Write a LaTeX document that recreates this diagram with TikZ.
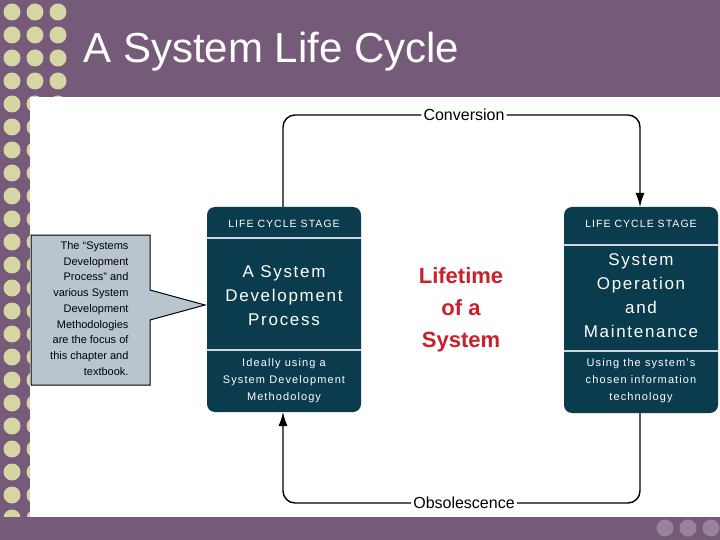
\documentclass[tikz,border=0pt]{standalone}
\usepackage{fontspec}
\setmainfont{Liberation Sans}
\usetikzlibrary{arrows.meta}
\definecolor{slide}{HTML}{765A7A}
\definecolor{dot}{HTML}{D6D6A4}
\definecolor{teal}{HTML}{0B3C4E}
\definecolor{callout}{HTML}{B9C5CE}
\definecolor{lifered}{HTML}{CC1F2A}
\begin{document}
\begin{tikzpicture}[x=1pt,y=-1pt,
  stage/.style={draw=none,fill=teal,rounded corners=8pt},
  sep/.style={draw=white!80!teal,line width=1.2pt},
  wtxt/.style 2 args={text=white,align=center,font=\fontsize{#1}{#2}\selectfont\addfontfeature{LetterSpace=10}},
  cyc/.style={line width=1.4pt,rounded corners=12pt},
  tip/.style={-{Latex[length=14pt,width=9pt]}},
  lbl/.style={fill=white,inner sep=2pt,font=\fontsize{16}{16}\selectfont}]
\useasboundingbox (0,0) rectangle (720,540);
\fill[slide] (0,0) rectangle (720,540);
% dots on left strip
\foreach \c in {12,35,58}
  \foreach \r in {0,...,22}
    \fill[dot] (\c,12+23*\r) circle (8.5);
\fill[slide] (75,0) rectangle (720,97);
\fill[white] (30,97) rectangle (720,517);
\fill[slide] (0,517) rectangle (720,540);
\foreach \c in {665,688,711}
  \fill[white!25!slide] (\c,528) circle (8.5);
\node[anchor=west,text=white,font=\fontsize{42}{42}\selectfont] (title) at (80,52) {A System Life Cycle};
% stages
\draw[stage] (207,207) rectangle (361,412);
\draw[sep] (207,238) -- (361,238);
\draw[sep] (207,350) -- (361,350);
\node[wtxt={10.5}{14}] (ls1) at (284,224) {LIFE CYCLE STAGE};
\node[wtxt={17}{24}] (st1) at (284,296) {A System\\Development\\Process};
\node[wtxt={11}{17}] (ds1) at (284,381) {Ideally using a\\System Development\\Methodology};
\draw[stage] (564,207) rectangle (718,413);
\draw[sep] (564,245) -- (718,245);
\draw[sep] (564,351) -- (718,351);
\node[wtxt={10.5}{14}] (ls2) at (641,224) {LIFE CYCLE STAGE};
\node[wtxt={17}{24}] (st2) at (641,296) {System\\Operation\\and\\Maintenance};
\node[wtxt={11}{17}] (ds2) at (641,381) {Using the system's\\chosen information\\technology};
\coordinate (l1t) at (283,207);
\coordinate (l1b) at (283,412);
\coordinate (r1t) at (640,207);
\coordinate (r1b) at (640,413);
\node[lbl] (conv) at (464,115) {Conversion};
\node[lbl] (obs) at (464,503) {Obsolescence};
\draw[cyc] (l1t) |- (conv.west);
\draw[cyc,tip] (conv.east) -| (r1t);
\draw[cyc] (r1b) |- (obs.east);
\draw[cyc,tip] (obs.west) -| (l1b);
\node[text=lifered,font=\bfseries\fontsize{22}{32}\selectfont,align=center] (life) at (461,310) {Lifetime\\of a\\System};
% callout
\draw[fill=callout,line width=1pt] (31,235) -- (150,235) -- (150,290) -- (205,305) -- (150,320) -- (150,385) -- (31,385) -- cycle;
\node[align=right,anchor=north east,font=\fontsize{11}{15.7}\selectfont] (note) at (132,238) {The ``Systems\\Development\\Process'' and\\various System\\Development\\Methodologies\\are the focus of\\this chapter and\\textbook.};
\end{tikzpicture}
\end{document}
